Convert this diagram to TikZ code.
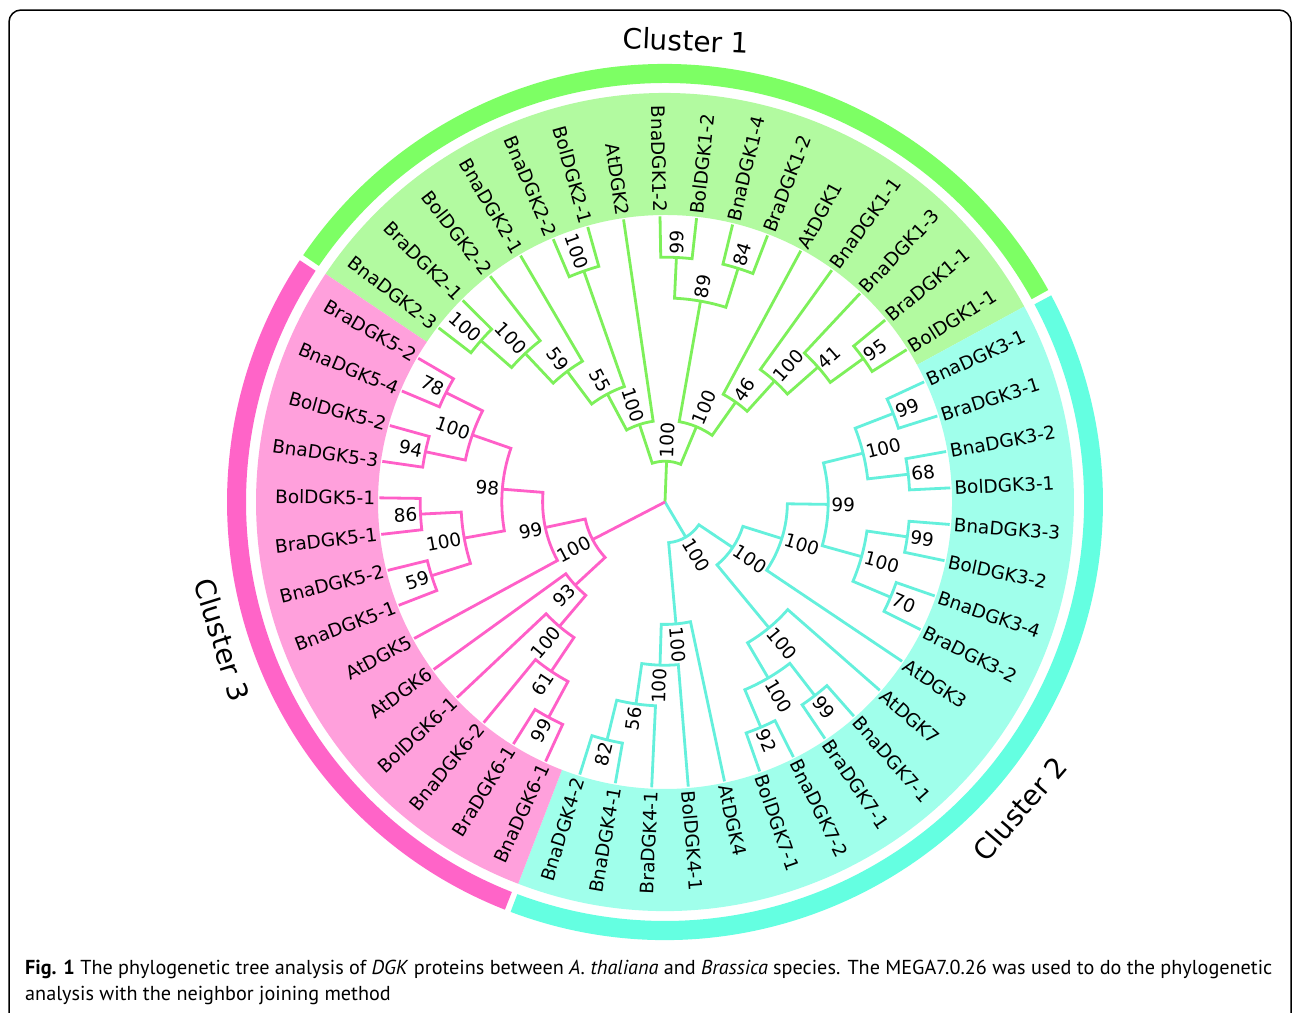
\documentclass[tikz,border=0pt]{standalone}
\usepackage{fontspec}
\setmainfont{DejaVu Sans}
\newfontfamily\capfont{PT Sans}

\definecolor{grnline}{RGB}{125,240,90}
\definecolor{grnband}{RGB}{178,250,160}
\definecolor{grnring}{RGB}{125,255,100}
\definecolor{cynline}{RGB}{100,240,220}
\definecolor{cynband}{RGB}{160,255,235}
\definecolor{cynring}{RGB}{100,255,225}
\definecolor{pnkline}{RGB}{255,95,200}
\definecolor{pnkband}{RGB}{255,160,220}
\definecolor{pnkring}{RGB}{255,100,200}

\def\U{40.8}
\def\D{7.346939}
\def\T{91}

\newcommand\clade[6]{%
  \draw[#1] ({\T-\D*(#2)}:{(7-(#3))*\U}) -- ({\T-\D*(#2)}:{(7-(#6))*\U})
    arc[start angle={\T-\D*(#2)}, end angle={\T-\D*(#4)}, radius={(7-(#6))*\U}]
    -- ({\T-\D*(#4)}:{(7-(#5))*\U});}

\newcommand\lab[4]{%
  \pgfmathsetmacro\lbAng{mod(\T-\D*(#2)+720,360)}%
  \pgfmathsetmacro\lbRad{#3}%
  \pgfmathtruncatemacro\lbSide{cos(\lbAng)>0}%
  \ifnum\lbSide=1
    \node[boot,rotate=\lbAng,anchor=west] (#1) at (\lbAng:\lbRad) {#4};
  \else
    \node[boot,rotate=\lbAng-180,anchor=east] (#1) at (\lbAng:\lbRad) {#4};
  \fi}
\newcommand\boot[4]{\lab{#1}{#2}{(7-#3)*\U+3}{#4}}

\newcommand\sector[5]{%
  \fill[#1] (#2:#4) arc[start angle=#2,end angle=#3,radius=#4]
    -- (#3:#5) arc[start angle=#3,end angle=#2,radius=#5] -- cycle;}

\begin{document}
\begin{tikzpicture}[x=1pt,y=1pt,
  grnbr/.style={draw=grnline,line width=2.8},
  cynbr/.style={draw=cynline,line width=2.8},
  pnkbr/.style={draw=pnkline,line width=2.8},
  boot/.style={font=\fontsize{18.5}{20}\selectfont,inner sep=0pt},
  clus/.style={font=\fontsize{28}{30}\selectfont,inner sep=0pt},
  capt/.style={anchor=base west,inner sep=0,font=\capfont\fontsize{20.2}{22}\selectfont}]
\useasboundingbox (0,0) rectangle (1293,-1012);
\fill[white] (0,0) rectangle (1293,-1012);
\draw[line width=1.5,rounded corners=12] (9,-10) rectangle (1291,-1040);

\begin{scope}[shift={(665,-502)}]
\sector{grnband}{146.102}{28.551}{287}{409}
\sector{cynband}{28.551}{-111.041}{287}{409}
\sector{pnkband}{-111.041}{-213.898}{287}{409}
\sector{grnring}{145.7}{28.95}{419}{438}
\sector{cynring}{28.15}{-110.64}{419}{438}
\sector{pnkring}{-111.44}{-213.5}{419}{438}

\coordinate (root) at (0,0);
\draw[grnbr] (root) -- ({\T-\D*0.4375}:\U);
\draw[cynbr] (root) -- ({\T-\D*20.46875}:\U);
\draw[pnkbr] (root) -- ({\T-\D*33.15625}:{2*\U});

\clade{grnbr}{-7}{0}{-6}{0}{1}
\clade{grnbr}{-6.5}{1}{-5}{0}{2}
\clade{grnbr}{-5.75}{2}{-4}{0}{3}
\clade{grnbr}{-3}{0}{-2}{0}{1}
\clade{grnbr}{-4.875}{3}{-2.5}{1}{4}
\clade{grnbr}{-3.6875}{4}{-1}{0}{5}
\clade{grnbr}{0}{0}{1}{0}{1}
\clade{grnbr}{2}{0}{3}{0}{1}
\clade{grnbr}{0.5}{1}{2.5}{1}{2}
\clade{grnbr}{7}{0}{8}{0}{1}
\clade{grnbr}{6}{0}{7.5}{1}{2}
\clade{grnbr}{5}{0}{6.75}{2}{3}
\clade{grnbr}{4}{0}{5.875}{3}{4}
\clade{grnbr}{1.5}{2}{4.9375}{4}{5}
\clade{grnbr}{-2.34375}{5}{3.21875}{5}{6}

\clade{cynbr}{9}{0}{10}{0}{1}
\clade{cynbr}{11}{0}{12}{0}{1}
\clade{cynbr}{9.5}{1}{11.5}{1}{2}
\clade{cynbr}{13}{0}{14}{0}{1}
\clade{cynbr}{15}{0}{16}{0}{1}
\clade{cynbr}{13.5}{1}{15.5}{1}{2}
\clade{cynbr}{10.5}{2}{14.5}{2}{3}
\clade{cynbr}{12.5}{3}{17}{0}{4}
\clade{cynbr}{19}{0}{20}{0}{1}
\clade{cynbr}{21}{0}{22}{0}{1}
\clade{cynbr}{19.5}{1}{21.5}{1}{2}
\clade{cynbr}{18}{0}{20.5}{2}{3}
\clade{cynbr}{14.75}{4}{19.25}{3}{5}
\clade{cynbr}{26}{0}{27}{0}{1}
\clade{cynbr}{25}{0}{26.5}{1}{2}
\clade{cynbr}{24}{0}{25.75}{2}{3}
\clade{cynbr}{23}{0}{24.875}{3}{4}
\clade{cynbr}{17}{5}{23.9375}{4}{6}

\clade{pnkbr}{28}{0}{29}{0}{1}
\clade{pnkbr}{28.5}{1}{30}{0}{2}
\clade{pnkbr}{29.25}{2}{31}{0}{3}
\clade{pnkbr}{30.125}{3}{32}{0}{4}
\clade{pnkbr}{40}{0}{41}{0}{1}
\clade{pnkbr}{38}{0}{39}{0}{1}
\clade{pnkbr}{38.5}{1}{40.5}{1}{2}
\clade{pnkbr}{36}{0}{37}{0}{1}
\clade{pnkbr}{34}{0}{35}{0}{1}
\clade{pnkbr}{34.5}{1}{36.5}{1}{2}
\clade{pnkbr}{35.5}{2}{39.5}{2}{3}
\clade{pnkbr}{33}{0}{37.5}{3}{4}
\clade{pnkbr}{31.0625}{4}{35.25}{4}{5}

\boot{g1}{-6.5}{1}{100}
\boot{g2}{-5.75}{2}{100}
\boot{g3}{-4.875}{3}{59}
\boot{g4}{-2.5}{1}{100}
\boot{g5}{-3.6875}{4}{55}
\boot{g6}{-2.34375}{5}{100}
\boot{g7}{0.5}{1}{99}
\boot{g8}{2.5}{1}{84}
\boot{g9}{1.5}{2}{89}
\boot{g10}{7.5}{1}{95}
\boot{g11}{6.75}{2}{41}
\boot{g12}{5.875}{3}{100}
\boot{g13}{4.9375}{4}{46}
\boot{g14}{3.21875}{5}{100}
\boot{g15}{0.4375}{6}{100}

\boot{c1}{9.5}{1}{99}
\boot{c2}{11.5}{1}{68}
\boot{c3}{10.5}{2}{100}
\boot{c4}{13.5}{1}{99}
\boot{c5}{15.5}{1}{70}
\boot{c6}{14.5}{2}{100}
\boot{c7}{12.5}{3}{99}
\boot{c8}{14.75}{4}{100}
\boot{c9}{19.5}{1}{99}
\boot{c10}{21.5}{1}{92}
\boot{c11}{20.5}{2}{100}
\boot{c12}{19.25}{3}{100}
\boot{c13}{17}{5}{100}
\boot{c14}{26.5}{1}{82}
\boot{c15}{25.75}{2}{56}
\boot{c16}{24.875}{3}{100}
\boot{c17}{23.9375}{4}{100}
\boot{c18}{20.46875}{6}{100}

\boot{p1}{28.5}{1}{99}
\boot{p2}{29.25}{2}{61}
\boot{p3}{30.125}{3}{100}
\boot{p4}{31.0625}{4}{93}
\boot{p5}{40.5}{1}{78}
\boot{p6}{38.5}{1}{94}
\boot{p7}{39.5}{2}{100}
\boot{p8}{36.5}{1}{86}
\boot{p9}{34.5}{1}{59}
\boot{p10}{35.5}{2}{100}
\boot{p11}{37.5}{3}{98}
\boot{p12}{35.25}{4}{99}
\boot{p13}{33.15625}{5}{100}

\foreach \k/\nm in {-7/BnaDGK2-3,-6/BraDGK2-1,-5/BolDGK2-2,-4/BnaDGK2-1,
  -3/BnaDGK2-2,-2/BolDGK2-1,-1/AtDGK2,0/BnaDGK1-2,1/BolDGK1-2,2/BnaDGK1-4,
  3/BraDGK1-2,4/AtDGK1,5/BnaDGK1-1,6/BnaDGK1-3,7/BraDGK1-1,8/BolDGK1-1,
  9/BnaDGK3-1,10/BraDGK3-1,11/BnaDGK3-2,12/BolDGK3-1,13/BnaDGK3-3,
  14/BolDGK3-2,15/BnaDGK3-4,16/BraDGK3-2,17/AtDGK3,18/AtDGK7,19/BnaDGK7-1,
  20/BraDGK7-1,21/BnaDGK7-2,22/BolDGK7-1,23/AtDGK4,24/BolDGK4-1,
  25/BraDGK4-1,26/BnaDGK4-1,27/BnaDGK4-2,28/BnaDGK6-1,29/BraDGK6-1,
  30/BnaDGK6-2,31/BolDGK6-1,32/AtDGK6,33/AtDGK5,34/BnaDGK5-1,35/BnaDGK5-2,
  36/BraDGK5-1,37/BolDGK5-1,38/BnaDGK5-3,39/BolDGK5-2,40/BnaDGK5-4,
  41/BraDGK5-2}
  \lab{leaf\k}{\k}{7*\U+4}{\nm};

\node[clus,rotate=-2.6] (clu1) at (87.4:462) {Cluster 1};
\node[clus,rotate=49.2] (clu2) at (-40.8:469) {Cluster 2};
\node[clus,rotate=-72.7] (clu3) at (197.3:464) {Cluster 3};
\end{scope}

\node[capt] (cap1) at (25,-974)
  {\textbf{Fig. 1} The phylogenetic tree analysis of \textit{DGK} proteins between \textit{A. thaliana} and \textit{Brassica} species. The MEGA7.0.26 was used to do the phylogenetic};
\node[capt] (cap2) at (25,-1000)
  {analysis with the neighbor joining method};
\end{tikzpicture}
\end{document}
